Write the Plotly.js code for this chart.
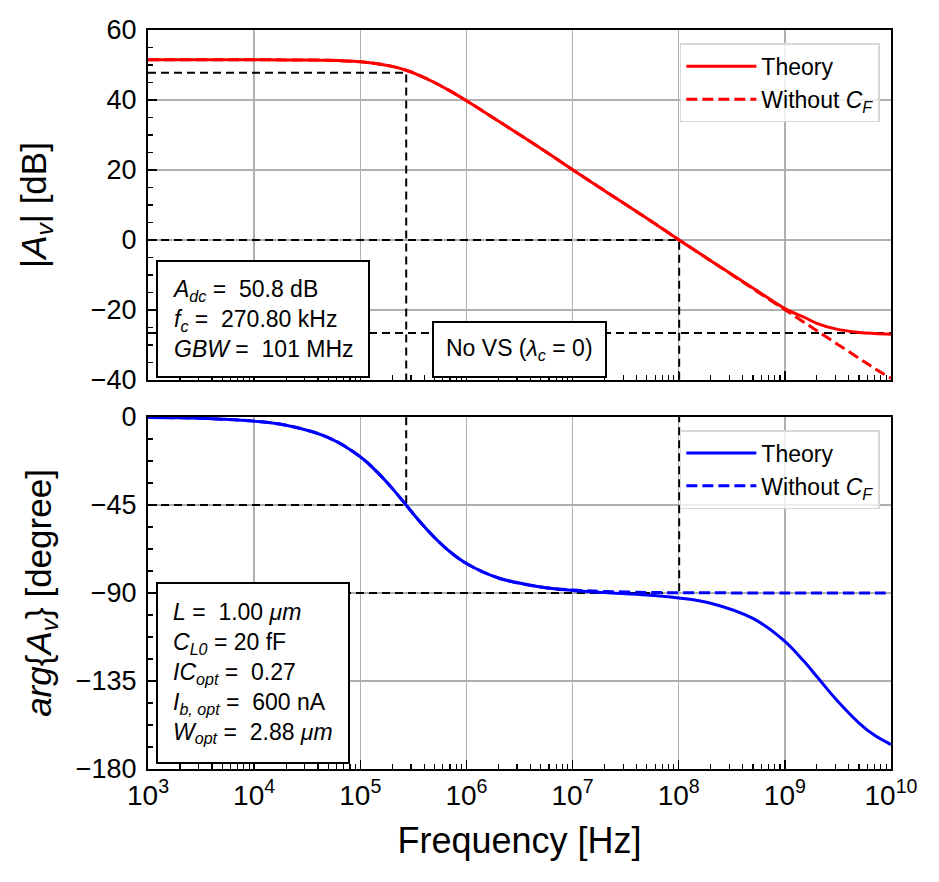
<!DOCTYPE html>
<html>
<head>
<meta charset="utf-8">
<script src="https://cdn.plot.ly/plotly-3.0.1.min.js"></script>
<style>
  html, body { margin: 0; padding: 0; background: #ffffff; }
  #bode { width: 939px; height: 882px; }
</style>
</head>
<body>
<div id="bode"></div>
<script>
// frequency points (Hz)
var freq = [1e3, 2e3, 5e3, 1e4, 2e4, 5e4, 1e5, 1.5e5, 2e5, 2.7e5, 3.5e5, 5e5, 7e5, 1e6,
            2e6, 5e6, 1e7, 2e7, 5e7, 1e8, 2e8, 5e8, 1e9, 1.5e9, 2e9, 3e9, 5e9, 7e9, 1e10];

// |Av| in dB
var magTheory = [51.5, 51.5, 51.5, 51.5, 51.45, 51.35, 50.9, 50.3, 49.6, 48.5, 47.2, 45.0, 42.6, 39.8,
                 34.0, 26.2, 20.1, 14.1, 6.2, 0.1, -5.9, -13.7, -19.6, -22.0, -23.8, -25.4, -26.4, -26.7, -26.9];
var magNoCf = [51.5, 51.5, 51.5, 51.5, 51.45, 51.35, 50.9, 50.3, 49.6, 48.5, 47.2, 45.0, 42.6, 39.8,
               34.0, 26.2, 20.1, 14.1, 6.2, 0.1, -5.9, -13.9, -19.9, -23.4, -25.9, -29.4, -33.8, -36.7, -39.5];

// arg{Av} in degree
var phaseTheory = [-0.2, -0.4, -1.1, -2.1, -4.2, -10.5, -20.3, -29.1, -36.5, -45.0, -52.4, -61.6, -68.9, -74.9,
                   -82.3, -86.9, -88.7, -89.8, -91.0, -92.5, -95.2, -103.0, -114.7, -124.7, -132.7, -144.1, -156.5, -162.8, -167.5];
var phaseNoCf = [-0.2, -0.4, -1.1, -2.1, -4.2, -10.5, -20.3, -29.1, -36.5, -45.0, -52.4, -61.6, -68.9, -74.9,
                 -82.3, -86.9, -88.5, -89.2, -89.7, -89.85, -89.9, -89.97, -90, -90, -90, -90, -90, -90, -90];

// guide values
var fLow = 1e3, fHigh = 1e10;
var fcHz = 270.8e3;
var gbwHz = 101e6;
var magMinus3 = 47.8;
var magFloor = -26.6;
var magMin = -40, magMax = 60;
var phaseMin = -180, phaseMax = 0;
var phaseAtFc = -45, phaseAtGbw = -90;

var decades = [3, 4, 5, 6, 7, 8, 9, 10];
var majorVals = decades.map(function (d) { return Math.pow(10, d); });
var majorText = decades.map(function (d) { return "10<sup>" + d + "</sup>"; });
var minorVals = [];
decades.slice(0, -1).forEach(function (d) {
  for (var k = 2; k <= 9; k++) minorVals.push(k * Math.pow(10, d));
});

var guide = { color: "black", width: 2, dash: "8px,5px" };
var font = "Liberation Sans, Arial, sans-serif";

var data = [
  // top: magnitude
  { x: [fLow, fcHz, fcHz], y: [magMinus3, magMinus3, magMin], xaxis: "x2", yaxis: "y2",
    mode: "lines", line: guide, showlegend: false, hoverinfo: "skip" },
  { x: [fLow, gbwHz, gbwHz], y: [0, 0, magMin], xaxis: "x2", yaxis: "y2",
    mode: "lines", line: guide, showlegend: false, hoverinfo: "skip" },
  { x: [fLow, fHigh], y: [magFloor, magFloor], xaxis: "x2", yaxis: "y2",
    mode: "lines", line: guide, showlegend: false, hoverinfo: "skip" },
  { x: freq, y: magTheory, xaxis: "x2", yaxis: "y2", mode: "lines", name: "Theory",
    line: { color: "#ff0000", width: 3, shape: "spline" }, legend: "legend" },
  { x: freq, y: magNoCf, xaxis: "x2", yaxis: "y2", mode: "lines", name: "Without <i>C<sub>F</sub></i>",
    line: { color: "#ff0000", width: 3, dash: "11px,5px", shape: "spline" }, legend: "legend" },

  // bottom: phase
  { x: [fLow, fcHz, fcHz], y: [phaseAtFc, phaseAtFc, phaseMax], xaxis: "x", yaxis: "y",
    mode: "lines", line: guide, showlegend: false, hoverinfo: "skip" },
  { x: [fLow, gbwHz, gbwHz], y: [phaseAtGbw, phaseAtGbw, phaseMax], xaxis: "x", yaxis: "y",
    mode: "lines", line: guide, showlegend: false, hoverinfo: "skip" },
  { x: freq, y: phaseTheory, xaxis: "x", yaxis: "y", mode: "lines", name: "Theory",
    line: { color: "#0000ff", width: 3, shape: "spline" }, legend: "legend2" },
  { x: freq, y: phaseNoCf, xaxis: "x", yaxis: "y", mode: "lines", name: "Without <i>C<sub>F</sub></i>",
    line: { color: "#0000ff", width: 3, dash: "11px,5px", shape: "spline" }, legend: "legend2" }
];

function xAxis(extra) {
  var ax = {
    type: "log", range: [3, 10],
    tickmode: "array", tickvals: majorVals, ticktext: majorText,
    ticks: "inside", ticklen: 9, tickwidth: 1.5, tickcolor: "black",
    minor: { tickmode: "array", tickvals: minorVals, ticks: "inside", ticklen: 5,
             tickwidth: 1.2, tickcolor: "black", showgrid: false },
    showgrid: true, gridcolor: "#b0b0b0", gridwidth: 1.5,
    showline: true, linecolor: "black", linewidth: 2, mirror: true,
    zeroline: false, tickfont: { size: 28, color: "black" }
  };
  for (var k in extra) ax[k] = extra[k];
  return ax;
}

function yAxis(extra) {
  var ax = {
    ticks: "inside", ticklen: 9, tickwidth: 1.5, tickcolor: "black",
    showgrid: true, gridcolor: "#b0b0b0", gridwidth: 1.5,
    showline: true, linecolor: "black", linewidth: 2, mirror: true,
    zeroline: false, tickfont: { size: 27, color: "black" }, ticklabelstandoff: 4,
    automargin: true
  };
  for (var k in extra) ax[k] = extra[k];
  return ax;
}

var legendStyle = {
  xref: "paper", yref: "paper", xanchor: "right", yanchor: "top",
  bgcolor: "rgba(255,255,255,0.8)", bordercolor: "#d8d8d8", borderwidth: 1.5,
  font: { family: font, size: 23, color: "black" }, tracegroupgap: 0, itemwidth: 70
};

var layout = {
  width: 939, height: 882,
  margin: { l: 148, r: 48, t: 30, b: 113 },
  paper_bgcolor: "white", plot_bgcolor: "white",
  font: { family: font, color: "black" },
  xaxis: xAxis({ anchor: "y", automargin: true,
    title: { text: "Frequency [Hz]", font: { size: 36 }, standoff: 18 } }),
  xaxis2: xAxis({ anchor: "y2", matches: "x", showticklabels: false }),
  yaxis: yAxis({ domain: [0, 0.4763], anchor: "x", range: [phaseMin, phaseMax],
    tickmode: "array", tickvals: [0, -45, -90, -135, -180],
    minor: { dtick: 11.25, tick0: 0, ticks: "inside", ticklen: 5, tickwidth: 1.2,
             tickcolor: "black", showgrid: false },
    title: { text: "<i>arg</i>{<i>A<sub>v</sub></i>} [degree]", font: { size: 35 }, standoff: 14 } }),
  yaxis2: yAxis({ domain: [0.5264, 1], anchor: "x2", range: [magMin, magMax],
    tickmode: "array", tickvals: [60, 40, 20, 0, -20, -40],
    minor: { dtick: 5, tick0: 0, ticks: "inside", ticklen: 5, tickwidth: 1.2,
             tickcolor: "black", showgrid: false },
    title: { text: "|<i>A<sub>v</sub></i>| [dB]", font: { size: 35 }, standoff: 34 } }),
  legend: Object.assign({ x: 0.985, y: 0.982 }, legendStyle),
  legend2: Object.assign({ x: 0.985, y: 0.4587 }, legendStyle),
  showlegend: true,
  annotations: [
    { xref: "x2 domain", yref: "y2 domain", x: 0.0108, y: 0.006,
      xanchor: "left", yanchor: "bottom", align: "left", showarrow: false,
      text: "<i>A<sub>dc</sub></i> =  50.8 dB<br><i>f<sub>c</sub></i> =  270.80 kHz<br><i>GBW</i> =  101 MHz",
      font: { family: font, size: 23, color: "black" },
      bgcolor: "white", bordercolor: "black", borderwidth: 2, borderpad: 14 },
    { xref: "x2 domain", yref: "y2 domain", x: 0.382, y: 0.006,
      xanchor: "left", yanchor: "bottom", align: "center", showarrow: false,
      text: "No VS (<i>λ<sub>c</sub></i> = 0)",
      font: { family: font, size: 23, color: "black" },
      bgcolor: "white", bordercolor: "black", borderwidth: 2, borderpad: 12 },
    { xref: "x domain", yref: "y domain", x: 0.0108, y: 0.014,
      xanchor: "left", yanchor: "bottom", align: "left", showarrow: false,
      text: "<i>L</i> =  1.00 <i>μm</i><br><i>C<sub>L0</sub></i> = 20 fF<br><i>IC<sub>opt</sub></i> =  0.27" +
            "<br><i>I<sub>b, opt</sub></i> =  600 nA<br><i>W<sub>opt</sub></i> =  2.88 <i>μm</i>",
      font: { family: font, size: 23, color: "black" },
      bgcolor: "white", bordercolor: "black", borderwidth: 2, borderpad: 15 }
  ]
};

Plotly.newPlot("bode", data, layout, { displayModeBar: false, staticPlot: true });
</script>
</body>
</html>
